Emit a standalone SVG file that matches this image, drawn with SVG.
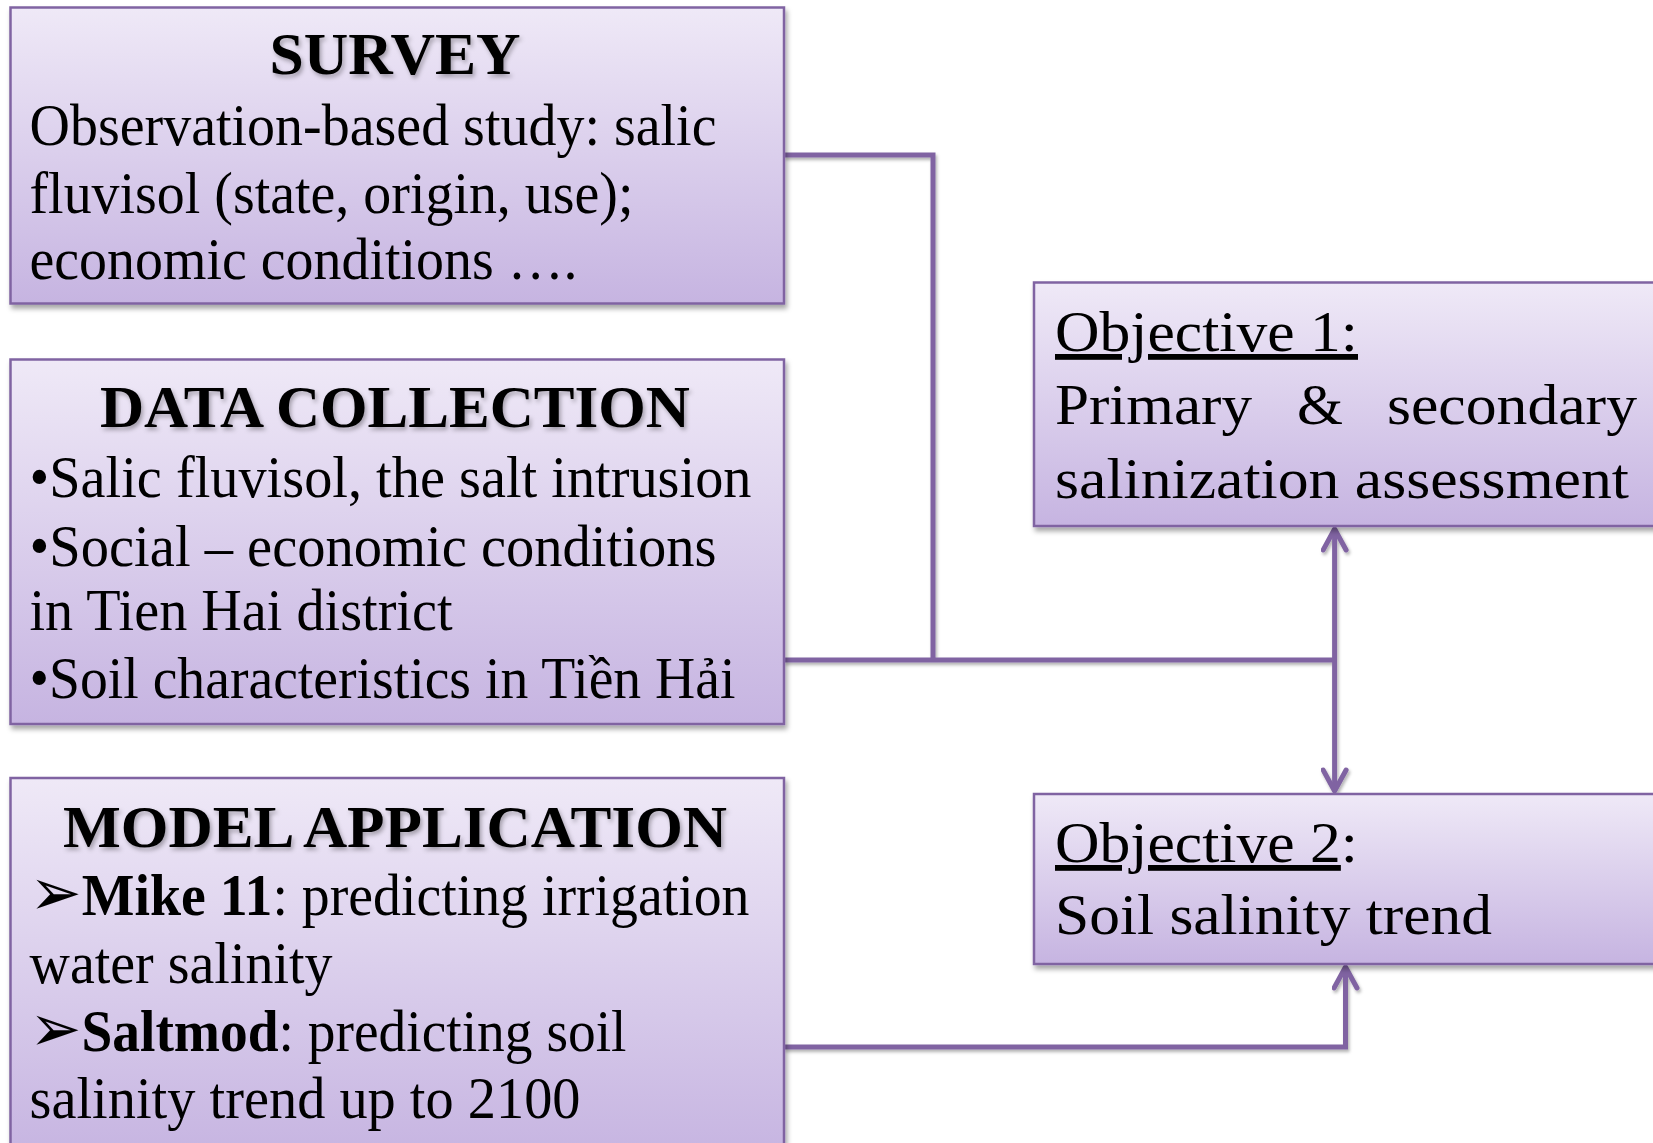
<svg xmlns="http://www.w3.org/2000/svg" width="1653" height="1143" viewBox="0 0 1653 1143">
<style>
.box{fill:url(#g);stroke:#8064a2;stroke-width:2.5;filter:url(#sh)}
.t{font-family:"Liberation Serif","Times New Roman",serif;font-size:59px;fill:#000}
.h{font-weight:bold;filter:url(#ts)}
.o{font-size:58px}
.c{fill:none;stroke:#8064a2;stroke-width:5}
.ar{font-family:"DejaVu Sans",sans-serif;font-size:66px}
</style>
<defs>
<linearGradient id="g" x1="0" y1="0" x2="0" y2="1">
<stop offset="0" stop-color="#efe9f7"/>
<stop offset="1" stop-color="#c6b4e1"/>
</linearGradient>
<filter id="sh" x="-5%" y="-5%" width="110%" height="115%">
<feDropShadow dx="2" dy="4" stdDeviation="2.5" flood-color="#000" flood-opacity="0.35"/>
</filter>
<filter id="ls" filterUnits="userSpaceOnUse" x="0" y="0" width="1653" height="1143">
<feDropShadow dx="1.5" dy="2.5" stdDeviation="1.5" flood-color="#000" flood-opacity="0.3"/>
</filter>
<filter id="ts" x="-5%" y="-10%" width="110%" height="130%">
<feDropShadow dx="2" dy="3" stdDeviation="2" flood-color="#000" flood-opacity="0.3"/>
</filter>
<marker id="ah" viewBox="0 0 28 28" refX="24" refY="14" markerWidth="28" markerHeight="28" markerUnits="userSpaceOnUse" orient="auto-start-reverse">
<path d="M3 2.5 L24 14 L3 25.5" fill="none" stroke="#8064a2" stroke-width="5" stroke-linecap="round" stroke-linejoin="round"/>
</marker>
</defs>
<rect width="1653" height="1143" fill="#fff"/>

<g id="connectors" filter="url(#ls)">
<path class="c" d="M784 155 H933 V660"/>
<path class="c" d="M784 660 H1334.6"/>
<path class="c" d="M1334.6 529 V791" marker-start="url(#ah)" marker-end="url(#ah)"/>
<path class="c" d="M784 1047 H1345.5 V967" marker-end="url(#ah)"/>
</g>

<g id="survey">
<rect class="box" x="10.5" y="7.5" width="773.5" height="296"/>
<text class="t h" x="395" y="74" text-anchor="middle" textLength="251" lengthAdjust="spacingAndGlyphs">SURVEY</text>
<text class="t" x="29.5" y="144.5" textLength="687" lengthAdjust="spacingAndGlyphs">Observation-based study: salic</text>
<text class="t" x="29.5" y="213" textLength="604" lengthAdjust="spacingAndGlyphs">fluvisol (state, origin, use);</text>
<text class="t" x="29.5" y="279" textLength="548" lengthAdjust="spacingAndGlyphs">economic conditions ….</text>
</g>

<g id="data-collection">
<rect class="box" x="10.5" y="359.5" width="773.5" height="364.5"/>
<text class="t h" x="395" y="427" text-anchor="middle" textLength="590" lengthAdjust="spacingAndGlyphs">DATA COLLECTION</text>
<text class="t" x="29.5" y="496.5" textLength="722" lengthAdjust="spacingAndGlyphs">•Salic fluvisol, the salt intrusion</text>
<text class="t" x="29.5" y="566" textLength="687" lengthAdjust="spacingAndGlyphs">•Social – economic conditions</text>
<text class="t" x="29.5" y="630" textLength="423" lengthAdjust="spacingAndGlyphs">in Tien Hai district</text>
<text class="t" x="29.5" y="698" textLength="706" lengthAdjust="spacingAndGlyphs">•Soil characteristics in Tiền Hải</text>
</g>

<g id="model-application">
<rect class="box" x="10.5" y="778" width="773.5" height="380"/>
<text class="t h" x="395" y="846.5" text-anchor="middle" textLength="664" lengthAdjust="spacingAndGlyphs">MODEL APPLICATION</text>
<text class="t" x="29.5" y="915" textLength="720" lengthAdjust="spacingAndGlyphs"><tspan class="ar">➢</tspan><tspan font-weight="bold">Mike 11</tspan>: predicting irrigation</text>
<text class="t" x="29.5" y="982.5" textLength="303" lengthAdjust="spacingAndGlyphs">water salinity</text>
<text class="t" x="29.5" y="1051" textLength="597" lengthAdjust="spacingAndGlyphs"><tspan class="ar">➢</tspan><tspan font-weight="bold">Saltmod</tspan>: predicting soil</text>
<text class="t" x="29.5" y="1117.5" textLength="551" lengthAdjust="spacingAndGlyphs">salinity trend up to 2100</text>
</g>

<g id="objective-1">
<rect class="box" x="1034" y="282.5" width="640" height="243.5"/>
<text class="t o" x="1055" y="351" textLength="303" lengthAdjust="spacingAndGlyphs" text-decoration="underline">Objective 1:</text>
<text class="t o" x="1055" y="424" textLength="197" lengthAdjust="spacingAndGlyphs">Primary</text>
<text class="t o" x="1297" y="424" textLength="46" lengthAdjust="spacingAndGlyphs">&amp;</text>
<text class="t o" x="1387" y="424" textLength="250" lengthAdjust="spacingAndGlyphs">secondary</text>
<text class="t o" x="1055" y="497.5" textLength="574" lengthAdjust="spacingAndGlyphs">salinization assessment</text>
</g>

<g id="objective-2">
<rect class="box" x="1034" y="794" width="640" height="170"/>
<text class="t o" x="1055" y="862" textLength="303" lengthAdjust="spacingAndGlyphs"><tspan text-decoration="underline">Objective 2</tspan>:</text>
<text class="t o" x="1055" y="934" textLength="437" lengthAdjust="spacingAndGlyphs">Soil salinity trend</text>
</g>
</svg>
